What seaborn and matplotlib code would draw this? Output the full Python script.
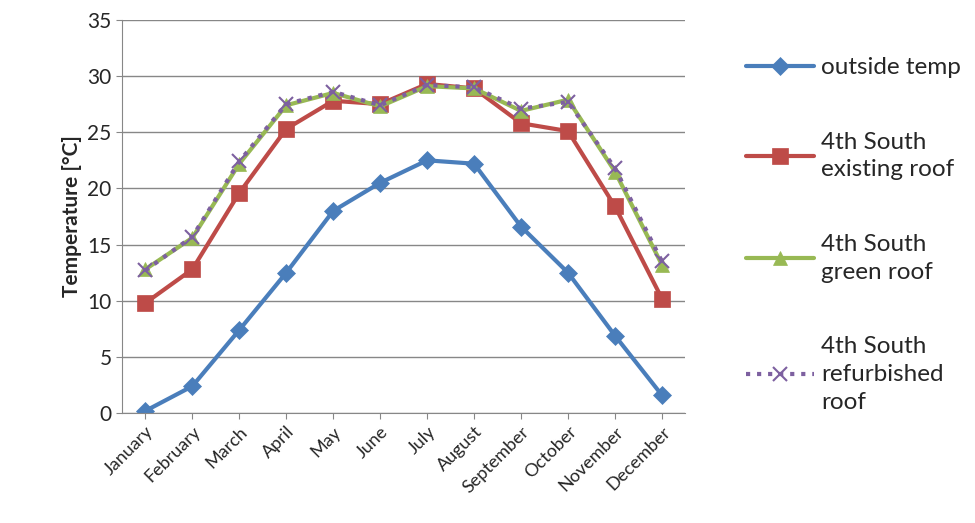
import matplotlib
matplotlib.use("Agg")
import matplotlib.pyplot as plt
import seaborn as sns
import pandas as pd

months = ["January", "February", "March", "April", "May", "June", "July",
          "August", "September", "October", "November", "December"]
outside_temp = [0.2, 2.4, 7.4, 12.5, 18.0, 20.5, 22.5, 22.2, 16.6, 12.5, 6.9, 1.6]
existing_roof = [9.8, 12.8, 19.6, 25.3, 27.8, 27.5, 29.3, 28.9, 25.8, 25.1, 18.4, 10.2]
green_roof = [12.8, 15.6, 22.2, 27.4, 28.5, 27.3, 29.1, 28.9, 26.9, 27.9, 21.5, 13.2]
refurbished_roof = [12.7, 15.7, 22.4, 27.5, 28.6, 27.4, 29.2, 29.0, 27.1, 27.7, 21.8, 13.5]

series = {
    "outside temp": (outside_temp, "#4a7ebb", "D", "-", 9),
    "4th South\nexisting roof": (existing_roof, "#be4b48", "s", "-", 11),
    "4th South\ngreen roof": (green_roof, "#98b954", "^", "-", 10),
    "4th South\nrefurbished\nroof": (refurbished_roof, "#7d60a0", "x", ":", 10),
}

sns.set_style("white")
plt.rcParams['font.family'] = ['Lato', 'DejaVu Sans']

fig, ax = plt.subplots(figsize=(9.75, 5.23), dpi=100)
fig.subplots_adjust(left=0.125, right=0.703, top=0.962, bottom=0.21)

x = list(range(len(months)))
for name, (vals, color, marker, ls, ms) in series.items():
    df = pd.DataFrame({"x": x, "y": vals})
    sns.lineplot(data=df, x="x", y="y", ax=ax, color=color, marker=marker,
                 linestyle=ls, linewidth=3, markersize=ms, label=name,
                 markeredgecolor=color, markeredgewidth=1.5 if marker == "x" else 0.5)

ax.set_xlim(-0.5, 11.5)
ax.set_ylim(0, 35)
ax.set_yticks(range(0, 36, 5))
ax.set_xticks(x)
ax.set_xticklabels(months, rotation=45, ha="right", rotation_mode="anchor", fontsize=13)
ax.tick_params(axis="y", labelsize=15)
ax.set_xlabel("")
ax.set_ylabel("Temperature [°C]", fontsize=15, fontweight="bold")
ax.yaxis.grid(True, color="#878787", linewidth=1)
for s in ["top", "right"]:
    ax.spines[s].set_visible(False)
for s in ["left", "bottom"]:
    ax.spines[s].set_color("#878787")
ax.tick_params(axis="both", length=4, color="#878787", direction="out", left=True, bottom=True)

leg = ax.legend(loc="upper left", bbox_to_anchor=(1.09, 0.93), frameon=False, fontsize=17.5,
                handlelength=2.8, handletextpad=0.3, labelspacing=2.2, borderaxespad=0)
for t in leg.get_texts():
    t.set_linespacing(1.4)

fig.savefig("out.png", dpi=100)
